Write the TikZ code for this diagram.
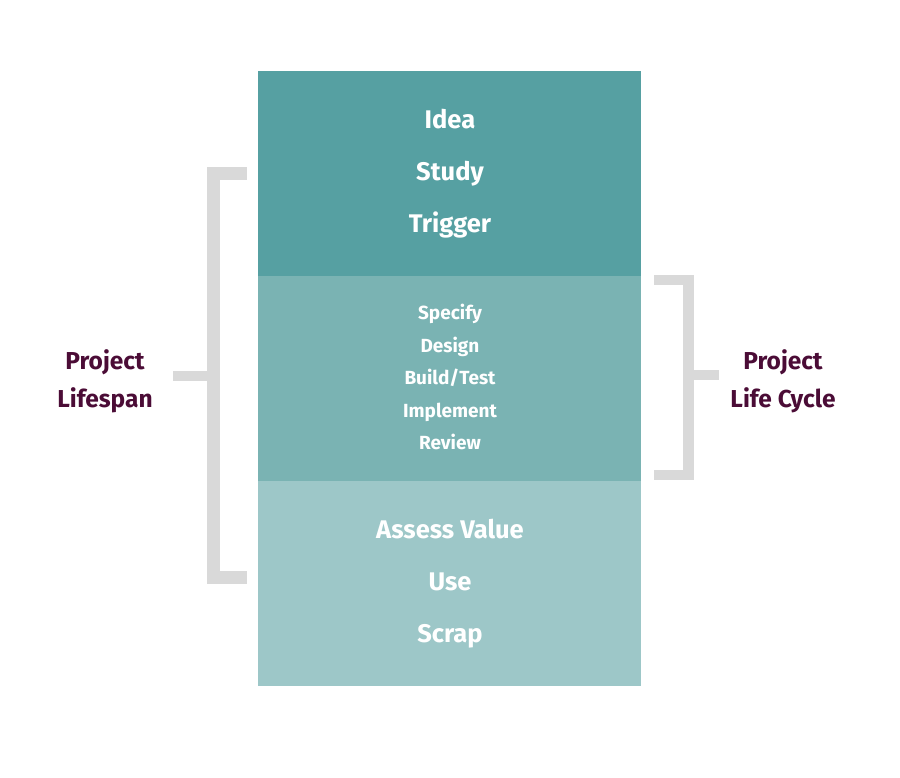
\documentclass[tikz,border=0pt]{standalone}
\usepackage{fontspec}
\setmainfont{Fira Sans}
\definecolor{tealA}{HTML}{56A0A2}
\definecolor{tealB}{HTML}{7AB3B3}
\definecolor{tealC}{HTML}{9DC7C8}
\definecolor{brk}{HTML}{D9D9D9}
\definecolor{plum}{HTML}{4B0C36}
\begin{document}
\begin{tikzpicture}[x=1pt,y=-1pt,
  band/.style={draw=none,inner sep=0pt,minimum width=383pt,minimum height=205pt,anchor=north west},
  bigtxt/.style={text=white,font=\bfseries\fontsize{25.5}{30}\selectfont,inner sep=0pt,anchor=base},
  smalltxt/.style={text=white,font=\bfseries\fontsize{19}{23}\selectfont,inner sep=0pt,anchor=base},
  lbl/.style={text=plum,font=\bfseries\fontsize{24.5}{29}\selectfont,inner sep=0pt,anchor=base},
  brace/.style={fill=brk,draw=none}]
\useasboundingbox (0,0) rectangle (900,777);
\node[band,fill=tealA] (top) at (258,71) {};
\node[band,fill=tealB] (mid) at (258,276) {};
\node[band,fill=tealC] (bot) at (258,481) {};
% top texts
\node[bigtxt] (idea) at (450,128) {Idea};
\node[bigtxt] (study) at (450,180) {Study};
\node[bigtxt] (trigger) at (450,232) {Trigger};
% middle texts
\node[smalltxt] (spec) at (450,319.5) {Specify};
\node[smalltxt] (design) at (450,352) {Design};
\node[smalltxt] (build) at (450,384.5) {Build/Test};
\node[smalltxt] (impl) at (450,417) {Implement};
\node[smalltxt] (rev) at (450,449.5) {Review};
% bottom texts
\node[bigtxt] (assess) at (450,538) {Assess Value};
\node[bigtxt] (use) at (450,590) {Use};
\node[bigtxt] (scrap) at (450,642) {Scrap};
% left bracket
\fill[brace] (207,167) rectangle (247,180);
\fill[brace] (207,167) rectangle (220,584);
\fill[brace] (207,571) rectangle (247,584);
\fill[brace] (173,371) rectangle (207,381);
% right bracket
\fill[brace] (654,275) rectangle (694,285);
\fill[brace] (683,275) rectangle (694,480);
\fill[brace] (654,470) rectangle (694,480);
\fill[brace] (694,370) rectangle (719,380);
% labels
\node[lbl] (projL) at (105,369) {Project};
\node[lbl] (lifespan) at (105,407.5) {Lifespan};
\node[lbl] (projR) at (783,369) {Project};
\node[lbl] (lifecycle) at (783,407.5) {Life Cycle};
\end{tikzpicture}
\end{document}
